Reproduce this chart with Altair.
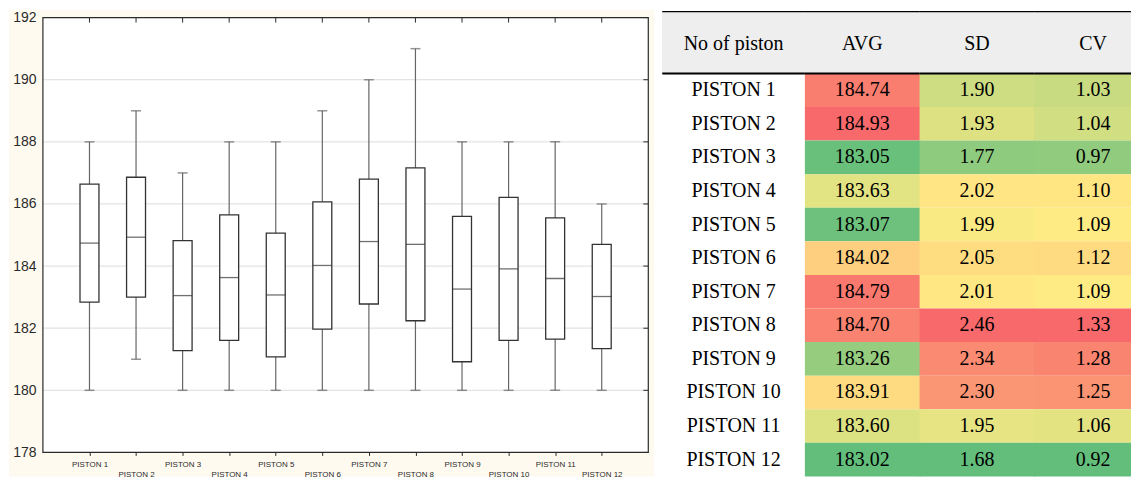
import altair as alt
import pandas as pd
import numpy as np

# ---------------- data ----------------
pistons = ["PISTON 1", "PISTON 2", "PISTON 3", "PISTON 4", "PISTON 5", "PISTON 6",
           "PISTON 7", "PISTON 8", "PISTON 9", "PISTON 10", "PISTON 11", "PISTON 12"]
avg = [184.74, 184.93, 183.05, 183.63, 183.07, 184.02, 184.79, 184.70, 183.26, 183.91, 183.60, 183.02]
sd = [1.90, 1.93, 1.77, 2.02, 1.99, 2.05, 2.01, 2.46, 2.34, 2.30, 1.95, 1.68]
cv = [1.03, 1.04, 0.97, 1.10, 1.09, 1.12, 1.09, 1.33, 1.28, 1.25, 1.06, 0.92]
wmin = [180, 181, 180, 180, 180, 180, 180, 180, 180, 180, 180, 180]
wmax = [188, 189, 187, 188, 188, 189, 190, 191, 188, 188, 188, 186]
y_ticks = [178, 180, 182, 184, 186, 188, 190, 192]
grid_vals = [180, 182, 184, 186, 188, 190]
headers = ["No of piston", "AVG", "SD", "CV"]

df = pd.DataFrame(dict(piston=pistons, avg=avg, sd=sd, cv=cv, wmin=wmin, wmax=wmax))
one = pd.DataFrame({"k": [0]})

# ---------------- layout constants ----------------
BW, BH = 607, 436
GAP = 14
COLW = [143, 115, 115, 96]
TOP, HEAD, TH = -6, 56, 460     # top line, header bottom line, table bottom (px in view)
CREAM = "#fffaf0"
INK = "#2a2a2a"
HEADER_GREY = "#eeeeee"
SERIF = "Liberation Serif"

# ---------------- box plot ----------------
xax = alt.Axis(title=None, labelAngle=0, domain=False, ticks=True, tickSize=3, tickColor=INK,
               labelFont="Liberation Sans", labelFontSize=8, labelColor=INK, labelPadding=5,
               labelLineHeight=10, labelOverlap=False, labelBound=False, grid=False, zindex=1,
               labelExpr="toNumber(replace(datum.value, 'PISTON ', '')) % 2 == 0 ? ['', datum.value] : datum.value")
xenc = alt.X("piston:N", sort=pistons, scale=alt.Scale(type="point", padding=1), axis=xax)
yscale = alt.Scale(domain=[178, 192], nice=False, zero=False)
yax = alt.Axis(title=None, values=y_ticks, domain=False, ticks=False, grid=False, zindex=1,
               labelFont="Liberation Sans", labelFontSize=14, labelColor=INK, labelPadding=7)

base = alt.Chart(df)

cream = alt.Chart(one).mark_rect(fill=CREAM).encode(
    x=alt.value(-34), x2=alt.value(613), y=alt.value(-8), y2=alt.value(460))
header_band = alt.Chart(one).mark_rect(fill=HEADER_GREY).encode(
    x=alt.value(BW + GAP), x2=alt.value(BW + GAP + sum(COLW)),
    y=alt.value(TOP), y2=alt.value(HEAD))
plotbg = alt.Chart(one).mark_rect(fill="white").encode(
    x=alt.value(0), x2=alt.value(BW), y=alt.value(0), y2=alt.value(BH))
grid = alt.Chart(pd.DataFrame({"t": grid_vals})).mark_rule(color="#e3e3e3", strokeWidth=1.3).encode(
    y=alt.Y("t:Q", scale=yscale, axis=yax))
whisk = base.mark_rule(color="#666666", strokeWidth=1.2).encode(
    x=xenc, y=alt.Y("wmin:Q", scale=yscale, axis=yax), y2="wmax:Q")
capmin = base.mark_tick(color="#666666", size=10, thickness=1.5).encode(
    x=xenc, y=alt.Y("wmin:Q", scale=yscale, axis=yax))
capmax = base.mark_tick(color="#666666", size=10, thickness=1.5).encode(
    x=xenc, y=alt.Y("wmax:Q", scale=yscale, axis=yax))
box = base.transform_calculate(lo="datum.avg - datum.sd", hi="datum.avg + datum.sd").mark_bar(
    size=19, fill="white", stroke="#333333", strokeWidth=1.3).encode(
    x=xenc, y=alt.Y("lo:Q", scale=yscale, axis=yax), y2="hi:Q")
mean = base.mark_tick(color="#333333", size=19, thickness=1.3).encode(
    x=xenc, y=alt.Y("avg:Q", scale=yscale, axis=yax))
topticks = base.mark_rule(color=INK).encode(x=xenc, y=alt.value(0), y2=alt.value(5))
rightticks = alt.Chart(pd.DataFrame({"t": y_ticks})).mark_rule(color=INK).encode(
    y=alt.Y("t:Q", scale=yscale, axis=yax), x=alt.value(BW - 5), x2=alt.value(BW))
frame = alt.Chart(one).mark_rect(fill="transparent", stroke=INK, strokeWidth=1.2).encode(
    x=alt.value(0), x2=alt.value(BW), y=alt.value(0), y2=alt.value(BH))

boxplot = alt.layer(cream, header_band, plotbg, grid, whisk, capmin, capmax, box, mean,
                    topticks, rightticks, frame).properties(width=BW, height=BH)

# ---------------- table ----------------
rows = alt.Y("piston:N", sort=pistons,
             scale=alt.Scale(paddingInner=0, paddingOuter=0, range=[HEAD, TH]), axis=None)


def hband(y0, y1, width, fill):
    return alt.Chart(one).mark_rect(fill=fill).encode(
        x=alt.value(0), x2=alt.value(width + 1), y=alt.value(y0), y2=alt.value(y1))


def column(title, width, field=None, values=None, tx=None):
    tx = width / 2 if tx is None else tx
    layers = [hband(TOP, HEAD, width, HEADER_GREY)]
    if field is None:
        txt = base.mark_text(font=SERIF, fontSize=20, color="black", align="center",
                             baseline="middle").encode(y=rows, text="piston:N", x=alt.value(tx))
        layers.append(txt)
    else:
        dom = [float(np.min(values)), float(np.median(values)), float(np.max(values))]
        cells = base.mark_rect().encode(
            y=rows, x=alt.value(0), x2=alt.value(width + 1),
            color=alt.Color(f"{field}:Q", legend=None,
                            scale=alt.Scale(domain=dom, range=["#63BE7B", "#FFEB84", "#F8696B"],
                                            interpolate="rgb")))
        txt = base.mark_text(font=SERIF, fontSize=20, color="black", align="center",
                             baseline="middle").encode(
            y=rows, text=alt.Text(f"{field}:Q", format=".2f"), x=alt.value(tx))
        layers += [cells, txt]
    htxt = alt.Chart(pd.DataFrame({"h": [title]})).mark_text(
        font=SERIF, fontSize=20, color="black", align="center", baseline="middle").encode(
        text="h:N", x=alt.value(tx), y=alt.value((TOP + HEAD) / 2 + 1))
    layers += [htxt, hband(TOP - 0.6, TOP + 0.6, width, "black"),
               hband(HEAD - 1, HEAD + 1, width, "black")]
    return alt.layer(*layers).properties(width=width, height=TH)


col0 = column(headers[0], COLW[0])
col1 = column(headers[1], COLW[1], "avg", avg)
col2 = column(headers[2], COLW[2], "sd", sd)
col3 = column(headers[3], COLW[3], "cv", cv, tx=59)

table = alt.hconcat(col0, col1, col2, col3, spacing=0, bounds="flush").resolve_scale(
    x="independent", y="independent", color="independent")

chart = alt.hconcat(boxplot, table, spacing=GAP, bounds="flush").resolve_scale(
    x="independent", y="independent", color="independent"
).properties(padding=0, background="white").configure_view(stroke="transparent")

chart.save("out.html", embed_options={"renderer": "svg", "actions": False})
